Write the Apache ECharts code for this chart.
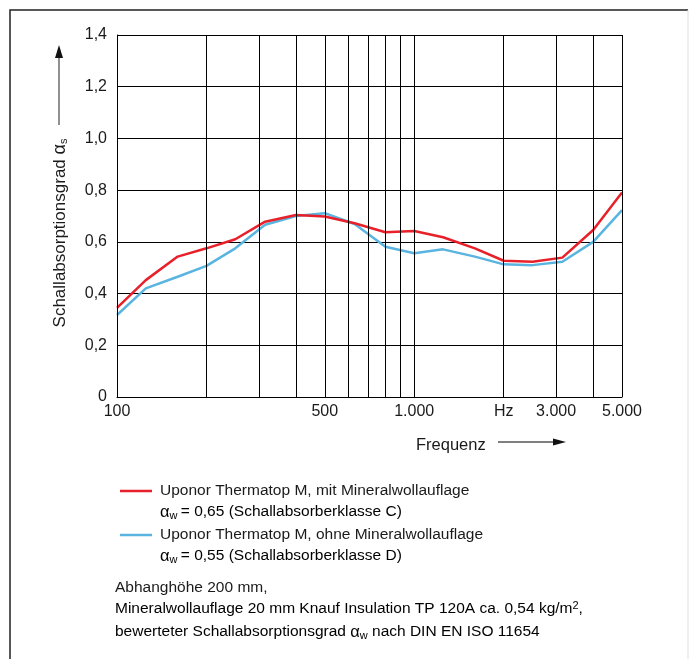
<!DOCTYPE html>
<html>
<head>
<meta charset="utf-8">
<script src="https://cdn.jsdelivr.net/npm/echarts@6/dist/echarts.min.js"></script>
<style>html,body{margin:0;padding:0;background:#fff}#c{width:689px;height:659px}</style>
</head>
<body>
<div id="c"></div>
<script>
const freqs = [100,125,160,200,250,315,400,500,630,800,1000,1250,1600,2000,2500,3150,4000,5000];
const withWool = [0.345,0.452,0.543,0.575,0.61,0.678,0.704,0.698,0.672,0.637,0.642,0.618,0.575,0.527,0.523,0.539,0.646,0.791];
const withoutWool = [0.317,0.42,0.465,0.507,0.575,0.666,0.70,0.711,0.669,0.581,0.556,0.571,0.543,0.513,0.51,0.523,0.60,0.723];
const gridFreqs = [100,200,300,400,500,600,700,800,900,1000,2000,3000,4000,5000];
const labelFreqs = [100,500,1000,2000,3000,5000];
const labelTexts = ['100','500','1.000','Hz','3.000','5.000'];
const seriesNames = ['Uponor Thermatop M, mit Mineralwollauflage','Uponor Thermatop M, ohne Mineralwollauflage'];
const alphaTexts = ['= 0,65 (Schallabsorberklasse C)','= 0,55 (Schallabsorberklasse D)'];

const FONT = '"Liberation Sans", Arial, sans-serif';
const TXT = '#1a1a1a';
const RED = '#e8202a';
const BLUE = '#5ab4e0';

const chart = echarts.init(document.getElementById('c'), null, {renderer: 'canvas'});
const sub = {fontSize: 11, fontFamily: FONT, color: TXT, verticalAlign: 'bottom', padding: [7,0,0,0]};
const sup = {fontSize: 11, fontFamily: FONT, color: TXT, padding: [0,0,7,0]};
const base = {fontSize: 15.5, fontFamily: FONT, color: TXT};

const option = {
  animation: false,
  backgroundColor: '#fff',
  textStyle: {fontFamily: FONT},
  grid: {left: 117, top: 35, right: 67, bottom: 262, containLabel: false},
  xAxis: {
    type: 'log', logBase: 10, min: 100, max: 5000,
    axisLine: {show: true, onZero: false, lineStyle: {color: '#000', width: 1}},
    axisTick: {show: false}, axisLabel: {show: false},
    splitLine: {show: false}, minorTick: {show: false}
  },
  yAxis: {
    type: 'value', min: 0, max: 1.4, interval: 0.2,
    axisLine: {show: true, lineStyle: {color: '#000', width: 1}},
    axisTick: {show: false},
    axisLabel: {
      margin: 10, fontSize: 16, color: TXT, fontFamily: FONT,
      formatter: v => v === 0 ? '0' : v.toFixed(1).replace('.', ',')
    },
    splitLine: {show: true, lineStyle: {color: '#000', width: 1}}
  },
  legend: {
    orient: 'vertical', left: 115, top: 475,
    itemWidth: 32, itemHeight: 2.5, itemGap: 22, icon: 'rect',
    selectedMode: false,
    data: seriesNames,
    textStyle: {fontSize: 15.5, fontFamily: FONT, color: TXT, lineHeight: 22, padding: [0,0,0,3]}
  },
  series: [
    {
      type: 'line', name: '_grid', data: [], z: 1, silent: true,
      markLine: {
        silent: true, symbol: 'none', animation: false,
        lineStyle: {color: '#000', width: 1, type: 'solid'},
        data: gridFreqs.map(f => {
          const i = labelFreqs.indexOf(f);
          return {
            xAxis: f,
            label: i >= 0 ? {show: true, position: 'start', distance: 7, formatter: labelTexts[i], fontSize: 16, color: TXT, fontFamily: FONT} : {show: false}
          };
        })
      }
    },
    {
      type: 'line', name: seriesNames[0], z: 4, symbol: 'none', showSymbol: false,
      data: freqs.map((f, i) => [f, withWool[i]]),
      lineStyle: {color: RED, width: 2.5}, itemStyle: {color: RED}
    },
    {
      type: 'line', name: seriesNames[1], z: 3, symbol: 'none', showSymbol: false,
      data: freqs.map((f, i) => [f, withoutWool[i]]),
      lineStyle: {color: BLUE, width: 2.5}, itemStyle: {color: BLUE}
    }
  ],
  graphic: [
    {type: 'polyline', shape: {points: [[688,10],[10,10],[10,659]]}, style: {stroke: '#222', lineWidth: 1.5, fill: null}, silent: true},
    {type: 'line', shape: {x1: 688, y1: 10, x2: 688, y2: 659}, style: {stroke: '#ddd', lineWidth: 1}, silent: true},
    {type: 'line', shape: {x1: 59, y1: 125, x2: 59, y2: 56}, style: {stroke: '#555', lineWidth: 1.3}, silent: true},
    {type: 'polygon', shape: {points: [[55,58],[63,58],[59,45]]}, style: {fill: '#111'}, silent: true},
    {type: 'text', x: 60, y: 233, rotation: Math.PI/2,
     style: {text: 'Schallabsorptionsgrad {a|α}{s|s}', align: 'center', verticalAlign: 'middle',
             font: '17px ' + FONT, fill: TXT,
             rich: {a: {fontSize: 18, fontFamily: FONT, color: TXT}, s: sub}}, silent: true},
    {type: 'text', x: 416, y: 445,
     style: {text: 'Frequenz', align: 'left', verticalAlign: 'middle', font: '16.5px ' + FONT, fill: TXT}, silent: true},
    {type: 'line', shape: {x1: 498, y1: 442, x2: 556, y2: 442}, style: {stroke: '#555', lineWidth: 1.3}, silent: true},
    {type: 'polygon', shape: {points: [[553,438.5],[553,445.5],[566,442]]}, style: {fill: '#111'}, silent: true},
    {type: 'text', x: 160, y: 512,
     style: {text: '{a|α}{w|w} {b|' + alphaTexts[0] + '}', align: 'left', verticalAlign: 'middle',
             rich: {a: {fontSize: 16.5, fontFamily: FONT, color: TXT}, w: sub, b: base}}, silent: true},
    {type: 'text', x: 160, y: 556,
     style: {text: '{a|α}{w|w} {b|' + alphaTexts[1] + '}', align: 'left', verticalAlign: 'middle',
             rich: {a: {fontSize: 16.5, fontFamily: FONT, color: TXT}, w: sub, b: base}}, silent: true},
    {type: 'text', x: 115, y: 588,
     style: {text: 'Abhanghöhe 200 mm,', align: 'left', verticalAlign: 'middle', font: '15.5px ' + FONT, fill: TXT}, silent: true},
    {type: 'text', x: 115, y: 609,
     style: {text: '{b|Mineralwollauflage 20 mm Knauf Insulation TP 120A ca. 0,54 kg/m}{p|2}{b|,}', align: 'left', verticalAlign: 'middle',
             rich: {b: base, p: sup}}, silent: true},
    {type: 'text', x: 115, y: 632,
     style: {text: '{b|bewerteter Schallabsorptionsgrad }{a|α}{w|w}{b| nach DIN EN ISO 11654}', align: 'left', verticalAlign: 'middle',
             rich: {b: base, a: {fontSize: 16.5, fontFamily: FONT, color: TXT}, w: sub}}, silent: true}
  ]
};
chart.setOption(option);
</script>
</body>
</html>
